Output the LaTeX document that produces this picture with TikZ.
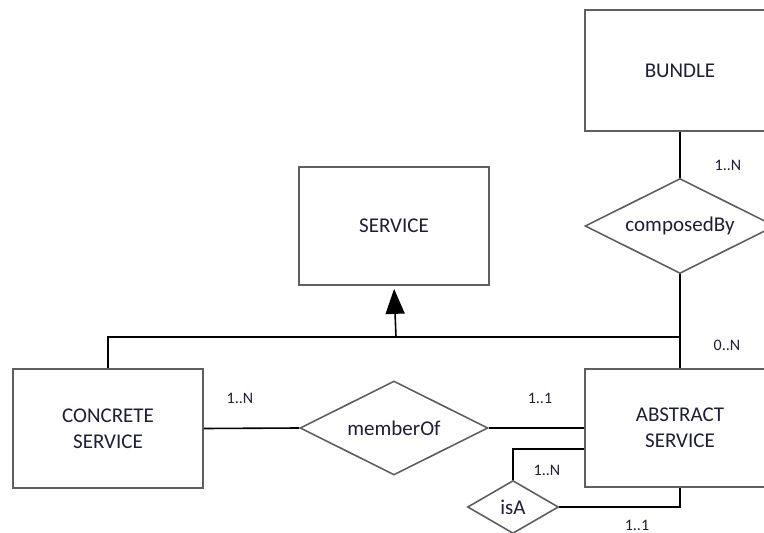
\documentclass[tikz,border=0pt]{standalone}
\usepackage{fontspec}
\setmainfont{Carlito}
\usetikzlibrary{shapes.geometric,arrows.meta}
\definecolor{txt}{RGB}{30,30,55}
\definecolor{bord}{RGB}{95,95,95}
\tikzset{
  entity/.style={draw=bord,line width=1.8pt,fill=white,minimum width=190pt,align=center,
    font=\fontsize{21}{26}\selectfont,text=txt,inner sep=0pt},
  rel/.style={draw=bord,line width=1.6pt,fill=white,diamond,aspect=2,inner sep=0pt,
    font=\fontsize{21}{26}\selectfont,text=txt},
  conn/.style={draw=black,line width=1.6pt},
  card/.style={font=\fontsize{16}{18}\selectfont,text=txt,inner sep=0pt}
}
\begin{document}
\begin{tikzpicture}[x=1pt,y=-1pt]
\useasboundingbox (0,0) rectangle (764,533);
\clip (0,0) rectangle (764,533);
\coordinate (hl) at (108,337);
\coordinate (hr) at (680,337);
\coordinate (ha) at (396,337);
\coordinate (ia) at (513,449);
\coordinate (ib) at (680,507);
% nodes
\node[entity,minimum height=121pt] (bundle) at (680,70.5) {BUNDLE};
\node[entity,minimum height=118pt] (service) at (394,226) {SERVICE};
\node[entity,minimum height=119pt] (concrete) at (108,428.5) {CONCRETE\\SERVICE};
\node[entity,minimum height=118pt] (abstract) at (680,428) {ABSTRACT\\SERVICE};
\node[rel,minimum width=190pt,minimum height=95pt] (composed) at (680,226) {composedBy};
\node[rel,minimum width=188pt,minimum height=94pt] (member) at (394,428) {memberOf};
\node[rel,minimum width=91pt,minimum height=53pt] (isa) at (513,507) {isA};
% edges
\draw[conn] (bundle.south) -- (composed.north);
\draw[conn] (composed.south) -- (abstract.north);
\draw[conn] (concrete.north) -- (hl) -- (hr);
\draw[conn,-{Triangle[length=25pt,width=19pt]},shorten >=3pt] (ha) -- (service.south);
\draw[conn] (concrete.east) -- (member.west);
\draw[conn] (member.east) -- (abstract.west);
\draw[conn] (abstract.west |- ia) -- (ia) -- (isa.north);
\draw[conn] (isa.east) -- (ib) -- (abstract.south);
% cardinalities
\node[card] (c1) at (728,165) {1..N};
\node[card] (c2) at (727,345) {0..N};
\node[card] (c3) at (540,398) {1..1};
\node[card] (c4) at (240,398) {1..N};
\node[card] (c5) at (547,470) {1..N};
\node[card] (c6) at (637,525) {1..1};
\end{tikzpicture}
\end{document}
